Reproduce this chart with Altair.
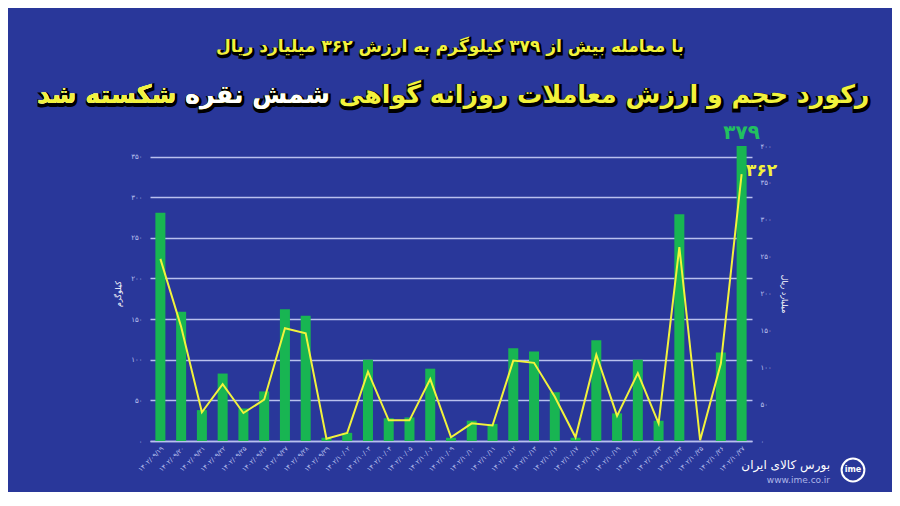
import altair as alt
import pandas as pd

FA = "۰۱۲۳۴۵۶۷۸۹"


def to_fa(s):
    return "".join(FA[int(c)] if c.isdigit() else c for c in str(s))


# ---------------- data ----------------
dates = [
    "1402/09/19", "1402/09/20", "1402/09/21", "1402/09/22", "1402/09/25",
    "1402/09/26", "1402/09/27", "1402/09/28", "1402/09/29", "1402/10/02",
    "1402/10/03", "1402/10/04", "1402/10/05", "1402/10/06", "1402/10/09",
    "1402/10/10", "1402/10/11", "1402/10/12", "1402/10/13", "1402/10/16",
    "1402/10/17", "1402/10/18", "1402/10/19", "1402/10/20", "1402/10/23",
    "1402/10/24", "1402/10/25", "1402/10/26", "1402/10/27",
]
volume_kg = [281, 159, 38, 83, 40, 61, 162, 154, 4, 10, 100, 28, 29, 89, 4,
             25, 21, 114, 110, 60, 4, 124, 34, 100, 25, 279, 0, 109, 379]
value_bn_rial = [247, 155, 39, 77, 38, 56, 153, 146, 3, 11, 94, 28, 28, 84, 5,
                 24, 21, 109, 106, 60, 5, 117, 34, 92, 24, 263, 1, 105, 362]
left_ticks = [0, 50, 100, 150, 200, 250, 300, 350]
right_ticks = [0, 50, 100, 150, 200, 250, 300, 350, 400]

title_sub = "با معامله بیش از ۳۷۹ کیلوگرم به ارزش ۳۶۲ میلیارد ریال"
title_main = "رکورد حجم و ارزش معاملات روزانه گواهی  شمش نقره شکسته شد"
title_white_tail = "شمش نقره شکسته شد"
title_yellow_tail = "شکسته شد"
left_title = "کیلوگرم"
right_title = "میلیارد ریال"
logo_name = "بورس کالای ایران"
logo_url = "www.ime.co.ir"

# ---------------- styles ----------------
BG = "#29379a"
GREEN = "#18b552"
YELLOW = "#f2f23c"
LAV = "#b9c0ee"
FONT = "DejaVu Sans"

df = pd.DataFrame({
    "date": [to_fa(d) for d in dates],
    "kg": volume_kg,
    "val": value_bn_rial,
})
df["kg_fa"] = [to_fa(v) for v in df["kg"]]
df["val_fa"] = [to_fa(v) for v in df["val"]]
df["last"] = [i == len(df) - 1 for i in range(len(df))]

fa_expr = "datum.label"
for d in range(10):
    fa_expr = f"replace({fa_expr}, regexp('{d}', 'g'), '{FA[d]}')"

x_axis = alt.Axis(labelAngle=315, labelFontSize=6.5, labelColor=LAV, labelFont=FONT,
                  ticks=False, domainColor=LAV, domainWidth=1.5, labelPadding=4,
                  grid=False)
x_scale = alt.Scale(paddingInner=0.5, paddingOuter=0.25)


def x_enc():
    return alt.X("date:N", sort=None, title=None, scale=x_scale, axis=x_axis)


left_scale = alt.Scale(domain=[0, 363], nice=False, clamp=True)
right_scale = alt.Scale(domain=[0, 400], nice=False)
left_axis = alt.Axis(values=left_ticks, labelExpr=fa_expr, grid=True,
                     gridColor=LAV, gridWidth=1.5, ticks=False, domain=False,
                     labelColor=LAV, labelFontSize=7, labelFont=FONT,
                     labelPadding=8, titleColor="white", titleFontSize=8,
                     titleFont=FONT, titleFontWeight="normal", titlePadding=8)
right_axis = alt.Axis(orient="right", values=right_ticks, labelExpr=fa_expr,
                      grid=False, ticks=False, domain=False, labelColor=LAV,
                      labelFontSize=7, labelFont=FONT, labelPadding=8,
                      titleColor="white", titleFontSize=8, titleFont=FONT,
                      titleFontWeight="normal", titlePadding=8)

base = alt.Chart(df)

bars = base.mark_bar(color=GREEN, size=10).encode(
    x=x_enc(),
    y=alt.Y("kg:Q", scale=left_scale, title=left_title, axis=left_axis),
)
kg_label = base.transform_filter("datum.last").mark_text(
    color="#22c060", fontSize=20, fontWeight="bold", font=FONT, dy=-13
).encode(x=x_enc(), y=alt.Y("kg:Q", scale=left_scale, title=left_title, axis=left_axis),
         text="kg_fa:N")

line = base.mark_line(color=YELLOW, strokeWidth=2).encode(
    x=x_enc(),
    y=alt.Y("val:Q", scale=right_scale, title=right_title, axis=right_axis),
)
val_label = base.transform_filter("datum.last").mark_text(
    color=YELLOW, fontSize=17, fontWeight="bold", font=FONT, dx=20, dy=-3
).encode(x=x_enc(), y=alt.Y("val:Q", scale=right_scale, title=right_title, axis=right_axis),
         text="val_fa:N")


def deco_text(txt, x, y, **kw):
    return alt.Chart(pd.DataFrame({"t": [txt]})).mark_text(font=FONT, **kw).encode(
        x=alt.value(x), y=alt.value(y), text="t:N")


# plot area origin is at page (150, 146)
sub_x, sub_y = 300, -99
main_x, main_y = -113, -51
SUB_FS = 17
MAIN_FS = 25.3
titles = [
    deco_text(title_sub, sub_x + 1, sub_y + 2, fontSize=SUB_FS, fontWeight="bold",
              align="center", baseline="middle", color="black", stroke="black",
              strokeWidth=3),
    deco_text(title_sub, sub_x, sub_y, fontSize=SUB_FS, fontWeight="bold",
              align="center", baseline="middle", color=YELLOW),
    deco_text(title_main, main_x + 1, main_y + 2, fontSize=MAIN_FS, fontWeight="bold",
              align="left", baseline="middle", color="black", stroke="black",
              strokeWidth=4),
    deco_text(title_main, main_x, main_y, fontSize=MAIN_FS, fontWeight="bold",
              align="left", baseline="middle", color=YELLOW),
    deco_text(title_white_tail, main_x, main_y, fontSize=MAIN_FS, fontWeight="bold",
              align="left", baseline="middle", color="white"),
    deco_text(title_yellow_tail, main_x, main_y, fontSize=MAIN_FS, fontWeight="bold",
              align="left", baseline="middle", color=YELLOW),
    deco_text(logo_name, 680, 319, fontSize=12, align="right", baseline="middle",
              color="white"),
    deco_text(logo_url, 680, 334, fontSize=9, align="right", baseline="middle",
              color="#aeb6e8"),
    alt.Chart(pd.DataFrame({"t": ["ime"]})).mark_point(
        shape="circle", filled=False, stroke="white", strokeWidth=2, size=520,
        opacity=1).encode(x=alt.value(703), y=alt.value(324)),
    deco_text("ime", 703, 324, fontSize=8, fontWeight="bold", align="center",
              baseline="middle", color="white"),
]

left_layer = alt.layer(bars, kg_label)
right_layer = alt.layer(line, val_label)

chart = alt.layer(left_layer, right_layer, *titles).resolve_scale(
    y="independent"
).properties(
    width=602, height=295,
    padding={"left": 142, "top": 138, "right": 140, "bottom": 51},
    autosize=alt.AutoSizeParams(type="none"),
).configure(background=BG).configure_view(stroke=None)

chart.save("out.html", embed_options={"renderer": "svg", "actions": False})
